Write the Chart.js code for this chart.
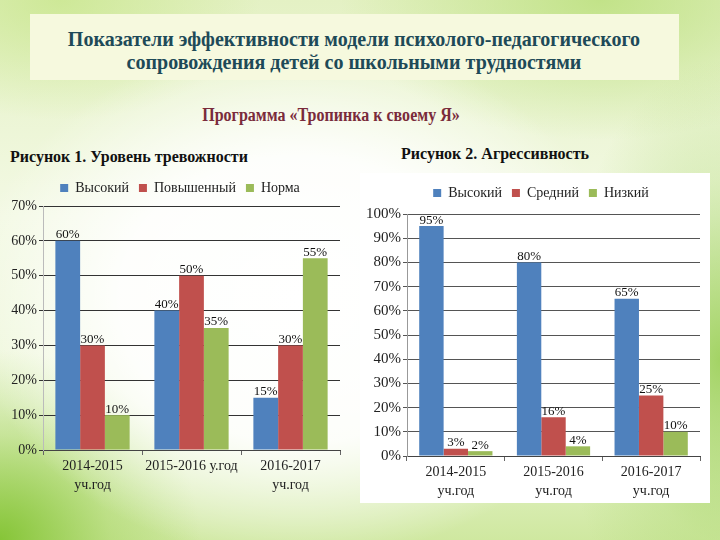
<!DOCTYPE html>
<html><head><meta charset="utf-8">
<script src="https://cdn.jsdelivr.net/npm/chart.js@4.4.1/dist/chart.umd.min.js"></script>
<style>
html,body{margin:0;padding:0;}
body{width:720px;height:540px;position:relative;overflow:hidden;font-family:'Liberation Serif',serif;
background:
 radial-gradient(ellipse 330px 260px at 300px 300px, rgba(255,255,255,1) 0%, rgba(255,255,255,0.9) 55%, rgba(255,255,255,0) 100%),
 radial-gradient(ellipse 200px 190px at 0px 540px, rgba(130,195,50,0.95) 0%, rgba(160,210,90,0.45) 55%, rgba(255,255,255,0) 100%),
 radial-gradient(ellipse 160px 300px at 720px 360px, rgba(150,205,80,0.85) 0%, rgba(170,215,110,0.3) 60%, rgba(255,255,255,0) 100%),
 radial-gradient(ellipse 260px 140px at 600px 0px, rgba(190,225,130,0.9) 0%, rgba(255,255,255,0) 100%),
 radial-gradient(ellipse 200px 120px at 60px 0px, rgba(200,230,140,0.8) 0%, rgba(255,255,255,0) 100%),
 linear-gradient(180deg,#e4f1c4 0%,#f3f9e4 40%,#eef7da 75%,#cfe8a0 100%);}
#titlebox{position:absolute;left:30px;top:14px;width:649px;height:66px;background:#f6f9de;}
.t{position:absolute;width:720px;text-align:center;font-weight:bold;white-space:nowrap;font-family:'Liberation Serif',serif;transform-origin:360px 0;}
#t1{left:-6px;top:27px;color:#1e4a58;font-size:22px;transform:scaleX(0.91);line-height:23px;}
#sub{left:-29px;top:105px;color:#7a2b3b;font-size:18px;transform:scaleX(0.89);}
.lab{position:absolute;font-weight:bold;font-size:16px;color:#111;white-space:nowrap;font-family:'Liberation Serif',serif;}
#box2{position:absolute;left:360px;top:173px;width:350px;height:330px;background:#ffffff;}
#c1{position:absolute;left:0;top:172px;}
#c2{position:absolute;left:360px;top:173px;}
</style></head><body>
<div id="titlebox"></div>
<div class="t" id="t1">Показатели эффективности модели психолого-педагогического<br>сопровождения детей со школьными трудностями</div>
<div class="t" id="sub">Программа «Тропинка к своему Я»</div>
<div class="lab" style="left:10px;top:148px;">Рисунок 1. Уровень тревожности</div>
<div class="lab" style="left:401px;top:145px;">Рисунок 2. Агрессивность</div>
<div id="box2"></div>
<canvas id="c1" width="350" height="325"></canvas>
<canvas id="c2" width="350" height="330"></canvas>
<script>
const categories1 = [["2014-2015","уч.год"], "2015-2016 у.год", ["2016-2017","уч.год"]];
const series1Names = ["Высокий","Повышенный","Норма"];
const anx_high = [60, 40, 15];
const anx_elev = [30, 50, 30];
const anx_norm = [10, 35, 55];
const ticks1 = [0,10,20,30,40,50,60,70];

const categories2 = [["2014-2015","уч.год"], ["2015-2016","уч.год"], ["2016-2017","уч.год"]];
const series2Names = ["Высокий","Средний","Низкий"];
const agr_high = [95, 80, 65];
const agr_mid = [3, 16, 25];
const agr_low = [2, 4, 10];
const ticks2 = [0,10,20,30,40,50,60,70,80,90,100];

const colors = ["#4f81bd","#c0504d","#9bbb59"];
const FONT = "'Liberation Serif', serif";

const labelsPlugin = {
  id:'barLabels',
  afterDatasetsDraw(chart){
    const ctx = chart.ctx;
    ctx.save();
    ctx.font = "13px " + FONT;
    ctx.fillStyle = "#111";
    ctx.textAlign = "center";
    ctx.textBaseline = "middle";
    chart.data.datasets.forEach((ds,i)=>{
      const meta = chart.getDatasetMeta(i);
      meta.data.forEach((el,j)=>{
        ctx.fillText(ds.data[j] + "%", el.x, el.y - 6);
      });
    });
    ctx.restore();
  }
};

function makeChart(id, cats, names, data, maxV, tickVals, gridColor, yBorder, yWidth, xHeight, padTop, legendShift, legendDy, tickSize){
  const shiftPlugin = {
    id:'legendShift',
    afterLayout(chart){
      const lg = chart.legend;
      if (lg){ lg.left += legendShift; lg.right += legendShift; lg.top += legendDy; lg.bottom += legendDy; }
    }
  };
  return new Chart(document.getElementById(id), {
    type:'bar',
    data:{labels:cats, datasets:names.map((n,i)=>({label:n, data:data[i], backgroundColor:colors[i], borderWidth:0, barPercentage:1.0, categoryPercentage:0.75}))},
    options:{
      responsive:false, animation:false,
      layout:{padding:{top:padTop, right:10, left:0, bottom:0}},
      plugins:{
        legend:{position:'top', labels:{font:{family:FONT,size:14}, color:'#222', boxWidth:8, boxHeight:8, padding:10}},
        tooltip:{enabled:false}
      },
      scales:{
        x:{grid:{drawOnChartArea:false, drawTicks:true, tickLength:5, color:'#666', offset:true},
           border:{color:'#444', width:1},
           ticks:{font:{family:FONT,size:14,lineHeight:1.35}, color:'#222', maxRotation:0, autoSkip:false, padding:2},
           afterFit(s){ s.height = xHeight; }},
        y:{min:0, max:maxV,
           afterBuildTicks(s){ s.ticks = tickVals.map(v=>({value:v})); },
           grid:{color:gridColor, lineWidth:1, drawTicks:true, tickLength:4},
           border:{color:yBorder, width:1},
           ticks:{font:{family:FONT,size:tickSize}, color:'#222', padding:2, callback:v=>v+"%"},
           afterFit(s){ s.width = yWidth; }}
      }
    },
    plugins:[labelsPlugin, shiftPlugin]
  });
}
makeChart('c1', categories1, series1Names, [anx_high, anx_elev, anx_norm], 70, ticks1, '#333', '#bbb', 43, 47, 0, 10, -1, 14);
makeChart('c2', categories2, series2Names, [agr_high, agr_mid, agr_low], 100, ticks2, '#555', '#999', 47, 47, 7, 11, -4, 15);
</script>
</body></html>
